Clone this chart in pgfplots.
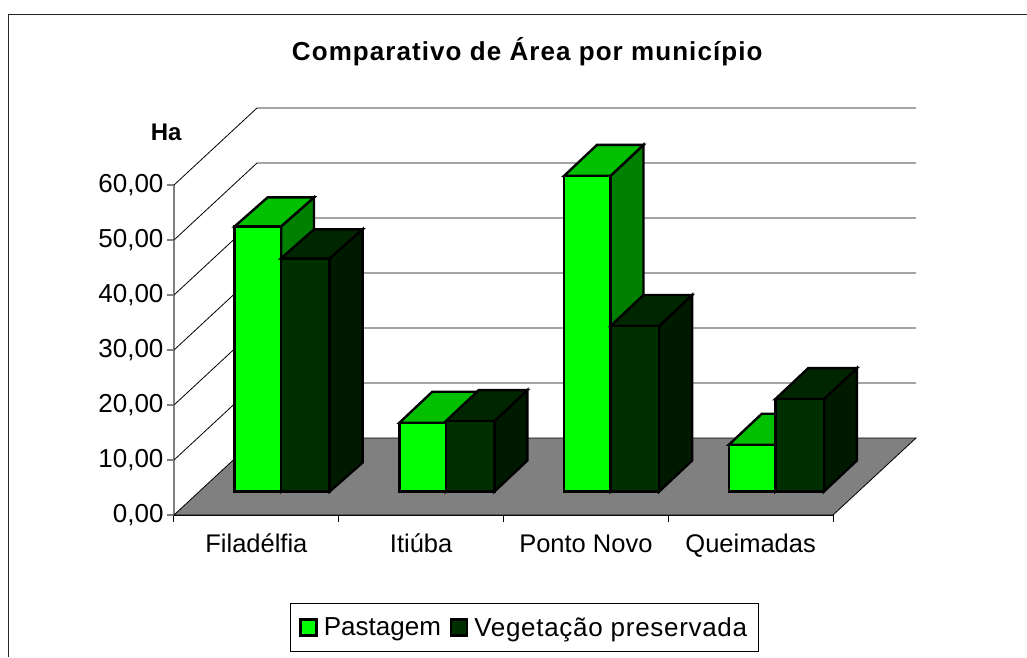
\documentclass[border=0pt]{standalone}
\usepackage{fontspec}
\setmainfont{Liberation Sans}
\newfontfamily\titlefont[LetterSpace=4.1]{Liberation Sans}
\newfontfamily\legfont[LetterSpace=2.7]{Liberation Sans}
\usepackage{pgfplots}
\pgfplotsset{compat=1.18}
\definecolor{pastfront}{RGB}{0,255,0}
\definecolor{pasttop}{RGB}{0,192,0}
\definecolor{pastside}{RGB}{0,128,0}
\definecolor{vegfront}{RGB}{0,48,0}
\definecolor{vegtop}{RGB}{0,38,0}
\definecolor{vegside}{RGB}{0,26,0}
\definecolor{floorgray}{RGB}{128,128,128}

% depth of the chart box and of the bars, in axis units
\def\wallx{0.5038}
\def\wally{14}
\def\barx{0.2}
\def\bary{5.64}
\def\barbase{4.27}

% one grid line: front edge on the y axis, back wall
\newcommand\wallline[1]{%
  \pgfmathsetmacro\ya{#1+\wally}%
  \pgfmathsetmacro\xb{4+\wallx}%
  \addplot[black,line width=0.8pt,forget plot] coordinates {(0,#1) (\wallx,\ya) (\xb,\ya)};
}
% left edge, right edge, value, colour prefix
\newcommand\onebar[4]{%
  \pgfmathsetmacro\xl{#1}%
  \pgfmathsetmacro\xr{#2}%
  \pgfmathsetmacro\xlb{#1+\barx}%
  \pgfmathsetmacro\xrb{#2+\barx}%
  \pgfmathsetmacro\yb{\barbase}%
  \pgfmathsetmacro\ybb{\barbase+\bary}%
  \pgfmathsetmacro\yt{\barbase+#3}%
  \pgfmathsetmacro\ytb{\barbase+#3+\bary}%
  \addplot[draw=black,line width=2.4pt,fill=#4side,forget plot] coordinates {(\xr,\yb) (\xrb,\ybb) (\xrb,\ytb) (\xr,\yt)} -- cycle;
  \addplot[draw=black,line width=2.4pt,fill=#4top,forget plot] coordinates {(\xl,\yt) (\xlb,\ytb) (\xrb,\ytb) (\xr,\yt)} -- cycle;
  \addplot[draw=black,line width=2.4pt,fill=#4front,forget plot] coordinates {(\xl,\yb) (\xl,\yt) (\xr,\yt) (\xr,\yb)} -- cycle;
}
\newcommand\barpair[3]{%
  \pgfmathsetmacro\pa{#1+0.368}%
  \pgfmathsetmacro\pb{#1+0.650}%
  \pgfmathsetmacro\pc{#1+0.945}%
  \onebar{\pa}{\pb}{#2}{past}%
  \onebar{\pb}{\pc}{#3}{veg}%
}

\begin{document}
\begin{tikzpicture}
\useasboundingbox (-174pt,-142pt) rectangle (853pt,515pt);
\draw[black!85,line width=1pt] (-165pt,-142pt) -- (-165pt,500pt) -- (853pt,500pt);
\begin{axis}[
  scale only axis,
  width=659pt,
  height=330pt,
  xmin=0, xmax=4,
  ymin=0, ymax=60,
  clip=false,
  no marks,
  axis x line=bottom,
  axis y line=left,
  axis line style={-},
  x axis line style={black,line width=1pt},
  y axis line style={floorgray,line width=1.5pt},
  tick align=outside,
  major tick length=7pt,
  xtick={0,1,2,3,4},
  x tick label as interval,
  xticklabels={Filadélfia,Itiúba,Ponto Novo,Queimadas},
  ytick={0,10,20,30,40,50,60},
  y tick style={floorgray,line width=1.5pt},
  x tick style={black,line width=1pt},
  x tick label style={font=\fontsize{25.5}{30}\selectfont,text height=19pt,text depth=6pt,yshift=-8pt},
  y tick label style={font=\fontsize{26}{30}\selectfont},
  yticklabel style={
    /pgf/number format/.cd,fixed,fixed zerofill,precision=2,use comma,assume math mode=true,
  },
  title={\titlefont\bfseries Comparativo de Área por município},
  title style={at={(0.536,1.385)},anchor=center,font=\fontsize{26}{30}\selectfont},
  ylabel={\bfseries Ha},
  ylabel style={rotate=-90,at={(axis description cs:-0.012,1.16)},anchor=center,font=\fontsize{24}{28}\selectfont},
  legend columns=2,
  legend style={
    at={(0.176,-0.2667)},anchor=north west,
    draw=black,line width=1pt,
    font=\fontsize{26}{30}\selectfont,
    inner xsep=9pt,inner ysep=12pt,
    /tikz/every even column/.append style={column sep=7pt},
    /tikz/every odd column/.append style={column sep=4pt},
  },
  legend image code/.code={\draw[#1] (0pt,-8pt) rectangle (16pt,8pt);},
]
\addlegendimage{draw=black,line width=2.4pt,fill=pastfront}
\addlegendentry{Pastagem}
\addlegendimage{draw=black,line width=2.4pt,fill=vegfront}
\addlegendentry{\legfont Vegetação preservada\hspace{1pt}}

\wallline{10}
\wallline{20}
\wallline{30}
\wallline{40}
\wallline{50}
\wallline{60}
\addplot[draw=black,line width=0.8pt,fill=floorgray,forget plot] coordinates {(0,0) (0.5038,14) (4.5038,14) (4,0)} -- cycle;

\def\bary{5.27}
\barpair{0}{48.2}{42.4}
\def\bary{5.64}
\barpair{1}{12.5}{12.8}
\barpair{2}{57.4}{30.1}
\barpair{3}{8.5}{16.8}
\end{axis}
\end{tikzpicture}
\end{document}
